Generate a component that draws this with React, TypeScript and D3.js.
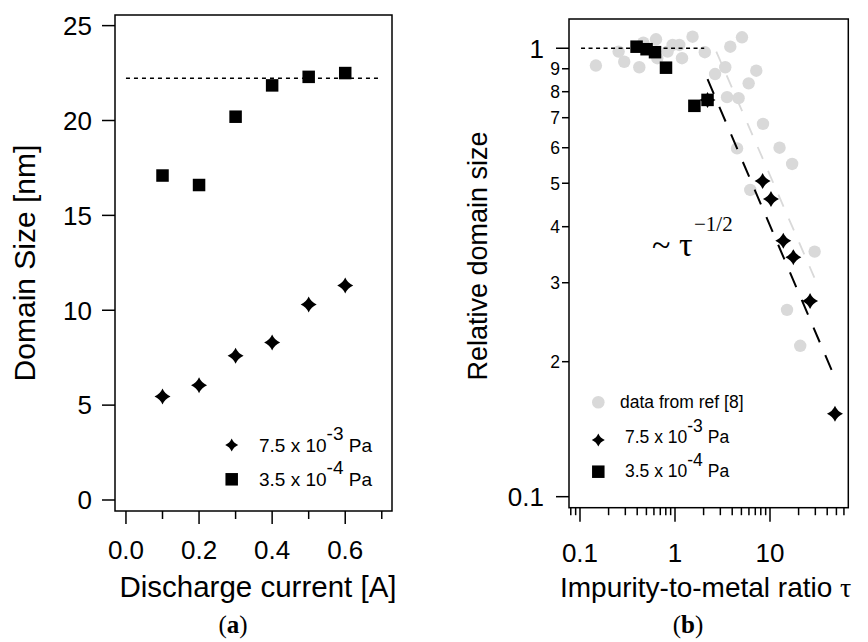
import React from 'react';
import * as d3 from 'd3';

// ---------- Panel (a) data ----------
const currentA = [0.1, 0.2, 0.3, 0.4, 0.5, 0.6];
const sizeLowP = [17.1, 16.6, 20.2, 21.85, 22.3, 22.5]; // 3.5 x 10^-4 Pa (squares)
const sizeHighP = [5.45, 6.05, 7.6, 8.3, 10.3, 11.3]; // 7.5 x 10^-3 Pa (stars)
const plateauSize = 22.23;
const plateauRange = [0.0, 0.7];
const leftYTicks = [0, 5, 10, 15, 20, 25];
const leftXMajor = [0.0, 0.2, 0.4, 0.6];
const leftXMinor = [0.1, 0.3, 0.5, 0.7];

// ---------- Panel (b) data ----------
const refTau = [0.147, 0.255, 0.292, 0.421, 0.464, 0.631, 0.651, 0.836, 0.944, 1.11, 1.185, 1.53, 2.06, 2.64, 3.82, 5.07, 3.38, 7.17, 5.96, 3.53, 4.67, 8.44, 4.5, 12.6, 17.1, 6.2, 29.5, 15.1, 20.8];
const refRel = [0.915, 0.983, 0.933, 0.907, 1.029, 1.047, 0.95, 0.983, 1.017, 1.017, 0.95, 1.061, 0.98, 0.876, 1.008, 1.058, 0.907, 0.891, 0.835, 0.778, 0.774, 0.678, 0.598, 0.6, 0.552, 0.483, 0.352, 0.261, 0.217];
const sqTau = [0.394, 0.502, 0.616, 0.804, 1.6, 2.2];
const sqRel = [1.008, 0.995, 0.98, 0.905, 0.744, 0.767];
const starTau = [2.2, 8.36, 10.24, 13.8, 17.6, 26.4, 48.3];
const starRel = [0.767, 0.506, 0.461, 0.372, 0.342, 0.273, 0.153];
const fitBlackTau = [2.2, 47.8];
const fitBlackRel = [0.853, 0.185];
const fitGrayTau = [2.72, 29.3];
const fitGrayRel = [0.983, 0.308];
const unityTau = [0.1026, 2.03];
const unityRel = [1, 1];
const rightYTicks = [1, 0.9, 0.8, 0.7, 0.6, 0.5, 0.4, 0.3, 0.2, 0.1];
const rightYLabels = ['1', '9', '8', '7', '6', '5', '4', '3', '2', '0.1'];
const rightYMajor = [1, 0.1];
const rightXMajor = [0.1, 1, 10];
const rightXLabels = ['0.1', '1', '10'];

const SANS = "'Liberation Sans', Arial, Helvetica, sans-serif";
const SERIF = "'Liberation Serif', 'Times New Roman', serif";
const GRAY = '#d9d9d9';

function starPath(r: number) {
  const k = 0.3 * r;
  return `M0,${-r} Q${k},${-k} ${r},0 Q${k},${k} 0,${r} Q${-k},${k} ${-r},0 Q${-k},${-k} 0,${-r} Z`;
}

function Star({ x, y, r = 8 }: { x: number; y: number; r?: number }) {
  return <path d={starPath(r)} transform={`translate(${x},${y})`} fill="#000" />;
}
function Square({ x, y, s = 12.5 }: { x: number; y: number; s?: number }) {
  return <rect x={x - s / 2} y={y - s / 2} width={s} height={s} fill="#000" />;
}

function LegendEntry({ x, y, mant, exp, fs }: { x: number; y: number; mant: string; exp: string; fs: number }) {
  return (
    <text x={x} y={y} fontFamily={SANS} fontSize={fs}>
      {mant}
      <tspan dy={-fs * 0.62} fontSize={fs}>{exp}</tspan>
      <tspan dy={fs * 0.62}>{' Pa'}</tspan>
    </text>
  );
}

export default function App() {
  const W = 868, H = 642;

  // Left panel scales
  const xL = d3.scaleLinear().domain([-0.03, 0.728]).range([115, 392]);
  const yL = d3.scaleLinear().domain([-0.58, 25.56]).range([511, 15]);
  const [lx0, lx1] = xL.range();
  const [ly0, ly1] = yL.range();

  // Right panel scales
  const xR = d3.scaleLog().domain([0.0766, 66.7]).range([569, 848.3]);
  const yR = d3.scaleLog().domain([0.0945, 1.162]).range([507.7, 19]);
  const [rx0, rx1] = xR.range();
  const [ry0, ry1] = yR.range();
  const rightXTicks = xR.ticks();

  const line = d3.line<[number, number]>().x((d) => xR(d[0])).y((d) => yR(d[1]));

  return (
    <svg width={W} height={H} style={{ position: 'absolute', left: 0, top: 0, background: '#fff' }}>
      <rect x={0} y={0} width={W} height={H} fill="#fff" />
      {/* ================= Panel (a) ================= */}
      <g>
        <line x1={xL(plateauRange[0])} x2={xL(plateauRange[1])} y1={yL(plateauSize)} y2={yL(plateauSize)}
          stroke="#000" strokeWidth={1.5} strokeDasharray="4,4" />
        {currentA.map((c, i) => <Square key={'s' + i} x={xL(c)} y={yL(sizeLowP[i])} />)}
        {currentA.map((c, i) => <Star key={'t' + i} x={xL(c)} y={yL(sizeHighP[i])} />)}
        <rect x={lx0} y={ly1} width={lx1 - lx0} height={ly0 - ly1} fill="none" stroke="#000" strokeWidth={1.5} />
        {leftYTicks.map((t) => (
          <g key={'ly' + t}>
            <line x1={lx0 - 13} x2={lx0} y1={yL(t)} y2={yL(t)} stroke="#000" strokeWidth={1.5} />
            <text x={92} y={yL(t)} dy="0.36em" textAnchor="end" fontFamily={SANS} fontSize={26}>{t}</text>
          </g>
        ))}
        {leftXMajor.map((t) => (
          <g key={'lxM' + t}>
            <line x1={xL(t)} x2={xL(t)} y1={ly0} y2={ly0 + 13} stroke="#000" strokeWidth={1.5} />
            <text x={xL(t)} y={559} textAnchor="middle" fontFamily={SANS} fontSize={26}>{t.toFixed(1)}</text>
          </g>
        ))}
        {leftXMinor.map((t) => (
          <line key={'lxm' + t} x1={xL(t)} x2={xL(t)} y1={ly0} y2={ly0 + 8} stroke="#000" strokeWidth={1.5} />
        ))}
        <text x={258} y={597} textAnchor="middle" fontFamily={SANS} fontSize={29.5}>Discharge current [A]</text>
        <text transform={`translate(35,263) rotate(-90)`} textAnchor="middle" fontFamily={SANS} fontSize={30}>Domain Size [nm]</text>
        {/* legend */}
        <Star x={231.7} y={445} r={6.5} />
        <LegendEntry x={259} y={452} mant="7.5 x 10" exp="-3" fs={19} />
        <Square x={231.7} y={479.3} s={12.5} />
        <LegendEntry x={259} y={486} mant="3.5 x 10" exp="-4" fs={19} />
        <text x={233} y={633} textAnchor="middle" fontFamily={SERIF} fontSize={25}>
          (<tspan fontWeight="bold">a</tspan>)
        </text>
      </g>

      {/* ================= Panel (b) ================= */}
      <g>
        {refTau.map((t, i) => <circle key={'c' + i} cx={xR(t)} cy={yR(refRel[i])} r={6.2} fill={GRAY} />)}
        <path d={line(fitGrayTau.map((t, i) => [t, fitGrayRel[i]]) as [number, number][]) || ''}
          fill="none" stroke={GRAY} strokeWidth={1.8} strokeDasharray="13,13" />
        <path d={line(unityTau.map((t, i) => [t, unityRel[i]]) as [number, number][]) || ''}
          fill="none" stroke="#000" strokeWidth={1.5} strokeDasharray="4,3.5" />
        <path d={line(fitBlackTau.map((t, i) => [t, fitBlackRel[i]]) as [number, number][]) || ''}
          fill="none" stroke="#000" strokeWidth={2} strokeDasharray="16,14" />
        {sqTau.map((t, i) => <Square key={'rs' + i} x={xR(t)} y={yR(sqRel[i])} />)}
        {starTau.map((t, i) => <Star key={'rt' + i} x={xR(t)} y={yR(starRel[i])} />)}
        <rect x={rx0} y={ry1} width={rx1 - rx0} height={ry0 - ry1} fill="none" stroke="#000" strokeWidth={1.5} />
        {rightYTicks.map((t, i) => {
          const major = rightYMajor.includes(t);
          return (
            <g key={'ry' + t}>
              <line x1={rx0 - (major ? 13 : 7)} x2={rx0} y1={yR(t)} y2={yR(t)} stroke="#000" strokeWidth={1.5} />
              <text x={major ? 544 : 560} y={yR(t)} dy="0.36em" textAnchor="end" fontFamily={SANS}
                fontSize={major ? 26 : 17.5}>{rightYLabels[i]}</text>
            </g>
          );
        })}
        {rightXTicks.map((t, i) => {
          const major = rightXMajor.some((m) => Math.abs(m - t) < 1e-9);
          return (
            <line key={'rx' + i} x1={xR(t)} x2={xR(t)} y1={ry0} y2={ry0 + (major ? 14 : 7.5)} stroke="#000" strokeWidth={1.5} />
          );
        })}
        {rightXMajor.map((t, i) => (
          <text key={'rxl' + t} x={xR(t)} y={562} textAnchor="middle" fontFamily={SANS} fontSize={26}>{rightXLabels[i]}</text>
        ))}
        <text x={560} y={597} fontFamily={SANS} fontSize={28}>
          Impurity-to-metal ratio <tspan fontFamily={SERIF}>τ</tspan>
        </text>
        <text transform={`translate(487,256) rotate(-90)`} textAnchor="middle" fontFamily={SANS} fontSize={27}>Relative domain size</text>
        {/* annotation */}
        <text x={652} y={256} fontFamily={SERIF} fontSize={34}>~ τ</text>
        <text x={694} y={231} fontFamily={SERIF} fontSize={21}>−1/2</text>
        {/* legend */}
        <circle cx={598.3} cy={402.3} r={6.3} fill={GRAY} />
        <text x={620} y={407.5} fontFamily={SANS} fontSize={17.5}>data from ref [8]</text>
        <Star x={598.3} y={440} r={6.5} />
        <LegendEntry x={625} y={443} mant="7.5 x 10" exp="-3" fs={17.5} />
        <Square x={598.3} y={471.7} s={12.5} />
        <LegendEntry x={625} y={477} mant="3.5 x 10" exp="-4" fs={17.5} />
        <text x={688} y={633} textAnchor="middle" fontFamily={SERIF} fontSize={25}>
          (<tspan fontWeight="bold">b</tspan>)
        </text>
      </g>
    </svg>
  );
}
